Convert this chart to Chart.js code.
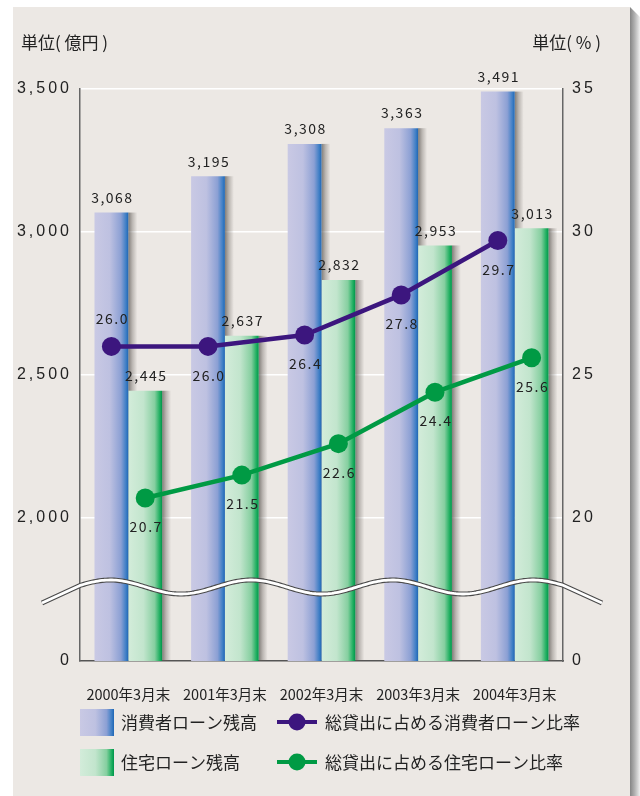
<!DOCTYPE html>
<html>
<head>
<meta charset="utf-8">
<script src="https://cdn.jsdelivr.net/npm/chart.js@4.4.1/dist/chart.umd.min.js"></script>
<style>
    html, body { margin: 0; padding: 0; background: #fff; }
    #wrap { width: 640px; height: 796px; position: relative; }
</style>
</head>
<body>
<div id="wrap"><canvas id="loanChart"></canvas></div>
<script>
// データ
const categories = ['2000年3月末', '2001年3月末', '2002年3月末', '2003年3月末', '2004年3月末'];
const consumerBalance = [3068, 3195, 3308, 3363, 3491];
const housingBalance = [2445, 2637, 2832, 2953, 3013];
const consumerRatio = [26.0, 26.0, 26.4, 27.8, 29.7];
const housingRatio = [20.7, 21.5, 22.6, 24.4, 25.6];
const leftTicks = [0, 2000, 2500, 3000, 3500];
const rightTicks = [0, 20, 25, 30, 35];
const seriesLabels = ['消費者ローン残高', '住宅ローン残高', '総貸出に占める消費者ローン比率', '総貸出に占める住宅ローン比率'];
const unitLeft = '単位( 億円 )';
const unitRight = '単位( % )';

const NARROW = "'Liberation Sans Narrow', 'Arial Narrow', 'Noto Sans CJK JP', sans-serif";
const SANS = "'Liberation Sans', Arial, 'Noto Sans CJK JP', sans-serif";
const JP = "'Noto Sans CJK JP', sans-serif";
const PANEL = '#ece8e4';
const PURPLE = '#3c167e';
const GREEN = '#009a44';

// 軸の省略: 0 の位置は最初の刻みの一段下に置く
const leftBreak = leftTicks[1] - (leftTicks[2] - leftTicks[1]);
const rightBreak = rightTicks[1] - (rightTicks[2] - rightTicks[1]);

function breakTicks(list, breakValue) {
    return list.map((v, i) => ({ value: i === 0 ? breakValue : v }));
}
function breakLabel(value, list, breakValue) {
    if (value <= breakValue) return String(list[0]);
    return value.toLocaleString('en-US');
}

function barGradient(ctx, left, right, kind) {
    const g = ctx.createLinearGradient(left, 0, right, 0);
    if (kind === 0) {
        g.addColorStop(0, '#c9c9e4');
        g.addColorStop(0.45, '#bec1e1');
        g.addColorStop(0.78, '#8ca0d4');
        g.addColorStop(0.93, '#3f7fc6');
        g.addColorStop(1, '#1f66b4');
    } else {
        g.addColorStop(0, '#d3ecda');
        g.addColorStop(0.45, '#c2e5cd');
        g.addColorStop(0.78, '#86cfa0');
        g.addColorStop(0.93, '#1faf60');
        g.addColorStop(1, '#00954a');
    }
    return g;
}

// 背景パネル
const panelPlugin = {
    id: 'panel',
    beforeDraw(chart) {
        const ctx = chart.ctx;
        ctx.save();
        ctx.fillStyle = '#fff';
        ctx.fillRect(0, 0, chart.width, chart.height);
        ctx.fillStyle = PANEL;
        ctx.fillRect(13, 7, 617, chart.height - 7);
        const sg = ctx.createLinearGradient(630, 0, 640, 0);
        sg.addColorStop(0, '#858585');
        sg.addColorStop(0.5, '#b5b5b5');
        sg.addColorStop(1, '#eeeeee');
        ctx.fillStyle = sg;
        ctx.beginPath();
        ctx.moveTo(630, 7);
        ctx.lineTo(640, 17);
        ctx.lineTo(640, chart.height);
        ctx.lineTo(630, chart.height);
        ctx.closePath();
        ctx.fill();
        ctx.restore();

        // 縦軸の目盛り文字は字間を空ける
        ['y', 'y1'].forEach(id => {
            const s = chart.scales[id];
            if (s && !s._spaced) {
                const orig = s.drawLabels;
                s.drawLabels = function (area) {
                    this.ctx.save();
                    this.ctx.letterSpacing = '3px';
                    orig.call(this, area);
                    this.ctx.restore();
                };
                s._spaced = true;
            }
        });
    }
};

// 折れ線の点を対応する棒の中心に合わせる
const alignPlugin = {
    id: 'align',
    afterDatasetsUpdate(chart) {
        const metas = chart.getSortedVisibleDatasetMetas();
        const bars = metas.filter(m => m.type === 'bar').sort((a, b) => a.index - b.index);
        const lines = metas.filter(m => m.type === 'line').sort((a, b) => a.index - b.index);
        lines.forEach((lm, k) => {
            const bm = bars[k];
            if (!bm) return;
            lm.data.forEach((pt, j) => {
                if (bm.data[j]) pt.x = bm.data[j].x;
            });
            if (lm.dataset) lm.dataset._path = undefined;
        });
    }
};

// 棒のグラデーションと影
const barStylePlugin = {
    id: 'barStyle',
    beforeDatasetsDraw(chart) {
        const ctx = chart.ctx;
        const bottom = chart.chartArea.bottom;
        const metas = chart.getSortedVisibleDatasetMetas().filter(m => m.type === 'bar');
        ctx.save();
        metas.forEach(meta => {
            meta.data.forEach(el => {
                const left = el.x - el.width / 2;
                const right = el.x + el.width / 2;
                el.options = Object.assign({}, el.options, { backgroundColor: barGradient(ctx, left, right, meta.index) });
                const sg = ctx.createLinearGradient(right, 0, right + 9, 0);
                sg.addColorStop(0, 'rgba(95,90,85,0.75)');
                sg.addColorStop(0.45, 'rgba(95,90,85,0.35)');
                sg.addColorStop(1, 'rgba(95,90,85,0)');
                ctx.fillStyle = sg;
                ctx.fillRect(right, el.y, 9, bottom - el.y);
            });
        });
        ctx.restore();
    },
    afterDatasetsDraw(chart) {
        const ctx = chart.ctx;
        const area = chart.chartArea;
        const ys = chart.scales.y;

        // 波線 (軸の省略)
        const cy = ys.getPixelForValue((leftBreak + leftTicks[1]) / 2) - 2.5;
        const amp = 7;
        const period = area.width * 0.292;
        const phase = area.left - 5;
        const waveY = x => cy - amp * Math.sin(2 * Math.PI * (x - phase) / period);
        const x0 = area.left - 38;
        const x1 = area.right + 39;
        ctx.save();
        ctx.beginPath();
        ctx.moveTo(x0, cy + 16);
        for (let x = area.left; x <= area.right; x += 2) {
            ctx.lineTo(x, waveY(x));
        }
        ctx.lineTo(area.right, waveY(area.right));
        ctx.lineTo(x1, cy + 16);
        ctx.lineJoin = 'round';
        ctx.lineCap = 'butt';
        ctx.strokeStyle = '#4a4a4a';
        ctx.lineWidth = 5;
        ctx.stroke();
        ctx.strokeStyle = '#ffffff';
        ctx.lineWidth = 2.8;
        ctx.stroke();
        ctx.restore();

        // 値ラベル
        ctx.save();
        ctx.fillStyle = '#222';
        ctx.textAlign = 'center';
        ctx.textBaseline = 'middle';
        ctx.font = '14px ' + NARROW;
        ctx.letterSpacing = '1.5px';
        chart.getSortedVisibleDatasetMetas().forEach(meta => {
            const ds = chart.data.datasets[meta.index];
            meta.data.forEach((el, j) => {
                const v = ds.data[j];
                if (meta.type === 'bar') {
                    ctx.fillText(v.toLocaleString('en-US'), el.x + 1, el.y - 15);
                } else {
                    const above = meta.index === 2 && j === 0;
                    ctx.fillText(v.toFixed(1), el.x + 1, el.y + (above ? -28 : 29));
                }
            });
        });
        ctx.restore();
    },
    afterDraw(chart) {
        const ctx = chart.ctx;
        ctx.save();
        ctx.fillStyle = '#222';
        ctx.textBaseline = 'middle';
        ctx.font = '17px ' + JP;
        ctx.textAlign = 'left';
        ctx.fillText(unitLeft, 21, 43);
        ctx.textAlign = 'right';
        ctx.fillText(unitRight, 601, 43);

        // 凡例
        const ds = chart.data.datasets;
        const cols = [80, 277];
        const rows = [722, 762];
        ctx.textAlign = 'left';
        ctx.font = '17px ' + JP;
        [0, 1].forEach(i => {
            const x = cols[0], y = rows[i];
            ctx.fillStyle = barGradient(ctx, x, x + 34, i);
            ctx.fillRect(x, y - 13, 34, 27);
            ctx.fillStyle = '#222';
            ctx.fillText(ds[i].label, x + 41, y + 1);
        });
        [2, 3].forEach((i, r) => {
            const x = cols[1], y = rows[r];
            const c = ds[i].borderColor;
            ctx.strokeStyle = c;
            ctx.lineWidth = 4;
            ctx.beginPath();
            ctx.moveTo(x, y);
            ctx.lineTo(x + 40, y);
            ctx.stroke();
            ctx.fillStyle = c;
            ctx.beginPath();
            ctx.arc(x + 20, y, 8.5, 0, Math.PI * 2);
            ctx.fill();
            ctx.fillStyle = '#222';
            ctx.fillText(ds[i].label, x + 48, y + 1);
        });
        ctx.restore();
    }
};

const ctx = document.getElementById('loanChart');
new Chart(ctx, {
    type: 'bar',
    data: {
        labels: categories,
        datasets: [
            {
                label: seriesLabels[0],
                data: consumerBalance,
                backgroundColor: () => '#c9c9e4',
                borderWidth: 0,
                yAxisID: 'y',
                order: 2,
                categoryPercentage: 0.7,
                barPercentage: 1.0
            },
            {
                label: seriesLabels[1],
                data: housingBalance,
                backgroundColor: () => '#d3ecda',
                borderWidth: 0,
                yAxisID: 'y',
                order: 2,
                categoryPercentage: 0.7,
                barPercentage: 1.0
            },
            {
                type: 'line',
                label: seriesLabels[2],
                data: consumerRatio,
                borderColor: PURPLE,
                backgroundColor: PURPLE,
                pointBackgroundColor: PURPLE,
                pointBorderWidth: 0,
                pointRadius: 9.5,
                borderWidth: 4.5,
                tension: 0,
                yAxisID: 'y1',
                order: 0
            },
            {
                type: 'line',
                label: seriesLabels[3],
                data: housingRatio,
                borderColor: GREEN,
                backgroundColor: GREEN,
                pointBackgroundColor: GREEN,
                pointBorderWidth: 0,
                pointRadius: 9.5,
                borderWidth: 4.5,
                tension: 0,
                yAxisID: 'y1',
                order: 0
            }
        ]
    },
    options: {
        responsive: true,
        maintainAspectRatio: false,
        animation: false,
        layout: { padding: { top: 89, left: 0, right: 0, bottom: 0 } },
        plugins: {
            legend: { display: false },
            tooltip: { enabled: false }
        },
        scales: {
            x: {
                grid: { display: false },
                border: { color: '#555', width: 1.5 },
                ticks: {
                    color: '#222',
                    padding: 17,
                    font: { family: NARROW, size: 14.5 }
                },
                afterFit(scale) { scale.height = 135; }
            },
            y: {
                position: 'left',
                min: leftBreak,
                max: leftTicks[leftTicks.length - 1],
                afterBuildTicks(scale) { scale.ticks = breakTicks(leftTicks, leftBreak); },
                grid: {
                    color: c => (c.tick && c.tick.value <= leftBreak) ? 'rgba(0,0,0,0)' : '#ffffff',
                    lineWidth: 1.5,
                    drawTicks: false
                },
                border: { color: '#666', width: 1.5 },
                ticks: {
                    color: '#222',
                    padding: 8,
                    font: { family: SANS, size: 16 },
                    callback: v => breakLabel(v, leftTicks, leftBreak)
                },
                afterFit(scale) { scale.width = 80; }
            },
            y1: {
                position: 'right',
                min: rightBreak,
                max: rightTicks[rightTicks.length - 1],
                afterBuildTicks(scale) { scale.ticks = breakTicks(rightTicks, rightBreak); },
                grid: { drawOnChartArea: false, drawTicks: false },
                border: { color: '#666', width: 1.5 },
                ticks: {
                    color: '#222',
                    padding: 9,
                    font: { family: SANS, size: 16 },
                    callback: v => breakLabel(v, rightTicks, rightBreak)
                },
                afterFit(scale) { scale.width = 77; }
            }
        }
    },
    plugins: [panelPlugin, alignPlugin, barStylePlugin]
});
</script>
</body>
</html>
